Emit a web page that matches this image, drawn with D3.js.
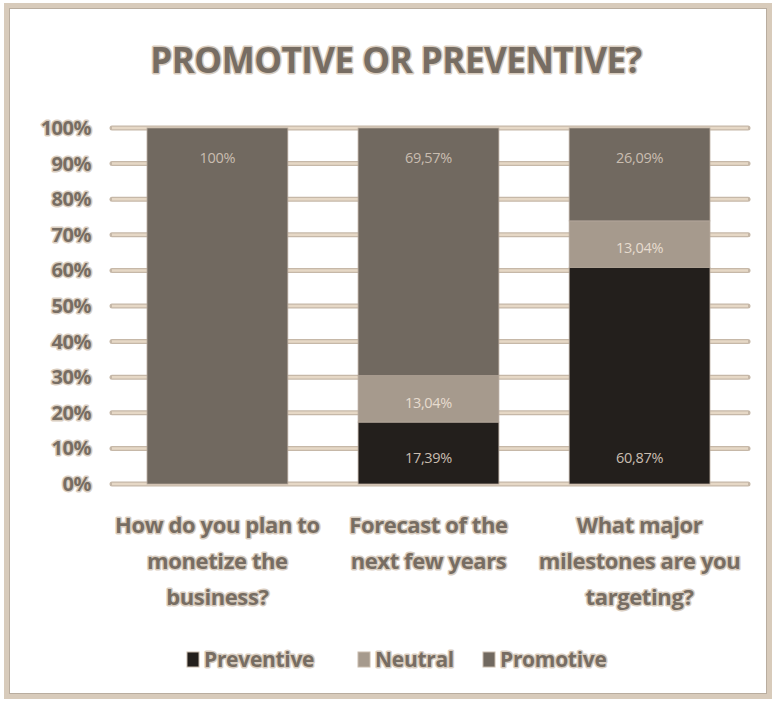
<!DOCTYPE html>
<html><head><meta charset="utf-8">
<script src="https://cdn.jsdelivr.net/npm/d3@7"></script>
<style>
body{margin:0;background:#fff;}
svg{display:block;}
</style></head>
<body>
<script>
const categories = [
  ["How do you plan to","monetize the","business?"],
  ["Forecast of the","next few years"],
  ["What major","milestones are you","targeting?"]
];
const seriesNames = ["Preventive","Neutral","Promotive"];
const preventive = [0, 17.39, 60.87];
const neutral = [0, 13.04, 13.04];
const promotive = [100, 69.57, 26.09];
const yTicks = [0,10,20,30,40,50,60,70,80,90,100];
const colors = ["#231f1c","#a69a8d","#716960"];
const title = "PROMOTIVE OR PREVENTIVE?";

const W = 776, H = 706;
const svg = d3.select("body").append("svg").attr("width",W).attr("height",H);
const font = "'Open Sans',sans-serif";

// frame
svg.append("rect").attr("x",6.5).attr("y",5.5).attr("width",763).attr("height",691)
  .attr("fill","none").attr("stroke","#d8cbbb").attr("stroke-width",5);
svg.append("rect").attr("x",9.5).attr("y",8.5).attr("width",757).attr("height",685)
  .attr("fill","none").attr("stroke","#b9ad9f").attr("stroke-width",1);

const x = d3.scaleBand().domain(d3.range(categories.length)).range([112,745]).paddingInner(0.333).paddingOuter(0.166);
const y = d3.scaleLinear().domain([0,100]).range([484,128]);

// gridlines
const g = svg.append("g");
g.selectAll("line.g1").data(yTicks).join("line")
  .attr("x1",112).attr("x2",748).attr("y1",d=>y(d)).attr("y2",d=>y(d))
  .attr("stroke","#c6b8a8").attr("stroke-width",5).attr("stroke-linecap","round");
g.selectAll("line.g2").data(yTicks).join("line")
  .attr("x1",112).attr("x2",748).attr("y1",d=>y(d)).attr("y2",d=>y(d))
  .attr("stroke","#e6d8c6").attr("stroke-width",2.5);

// stacked data
const rows = categories.map((c,i)=>({i, Preventive:preventive[i], Neutral:neutral[i], Promotive:promotive[i]}));
const stack = d3.stack().keys(seriesNames)(rows);

const fmt = v => (Math.round(v*100)/100).toString().replace(".",",") + "%";

stack.forEach((s,si)=>{
  svg.append("g").selectAll("rect").data(s.filter(d=>d[1]-d[0]>0)).join("rect")
    .attr("x",d=>x(d.data.i)).attr("width",x.bandwidth())
    .attr("y",d=>y(d[1])).attr("height",d=>y(d[0])-y(d[1]))
    .attr("fill",colors[si]).attr("stroke","#b3a699").attr("stroke-width",0.8);
});

// data labels
stack.forEach((s,si)=>{
  svg.append("g").selectAll("text").data(s.filter(d=>d[1]-d[0]>0)).join("text")
    .attr("x",d=>x(d.data.i)+x.bandwidth()/2)
    .attr("y",d=>{
      if(si===2) return y(d[1])+30;
      if(si===0) return y(d[0])-26;
      return (y(d[0])+y(d[1]))/2+4;
    })
    .attr("dy","0.35em")
    .attr("text-anchor","middle")
    .attr("font-family",font).attr("font-size",14.5).attr("letter-spacing",-0.3)
    .attr("fill", si===1 ? "#e6dccf" : "#c9bdb0")
    .text(d=>fmt(d[1]-d[0]));
});

function glowText(sel){
  return sel.attr("font-family",font).attr("font-weight","bold")
    .attr("fill","#776d63").attr("stroke","#d9cdbf").attr("stroke-width",3)
    .attr("paint-order","stroke").attr("stroke-linejoin","round");
}

// y labels
glowText(svg.append("g").selectAll("text").data(yTicks).join("text")
  .attr("x",91).attr("y",d=>y(d)).attr("dy","0.35em").attr("text-anchor","end")
  .attr("font-size",20).attr("letter-spacing",-0.5).text(d=>d+"%"));

// title
glowText(svg.append("text").attr("x",396).attr("y",61).attr("dy","0.35em")
  .attr("text-anchor","middle").attr("font-size",35).attr("letter-spacing",-0.5).text(title));

// category labels
categories.forEach((lines,i)=>{
  const t = glowText(svg.append("text").attr("text-anchor","middle").attr("font-size",22).attr("letter-spacing",-0.4));
  lines.forEach((l,k)=>{
    t.append("tspan").attr("x",x(i)+x.bandwidth()/2).attr("y",525+k*36).attr("dy","0.35em").text(l);
  });
});

// legend
const legX = [187,358,483];
seriesNames.forEach((n,i)=>{
  svg.append("rect").attr("x",legX[i]).attr("y",652).attr("width",12).attr("height",15)
    .attr("fill",colors[i]).attr("stroke","#c9bcad").attr("stroke-width",1);
  glowText(svg.append("text").attr("x",legX[i]+17).attr("y",660).attr("dy","0.35em")
    .attr("font-size",21).attr("letter-spacing",-0.3).text(n));
});
</script>
</body></html>
